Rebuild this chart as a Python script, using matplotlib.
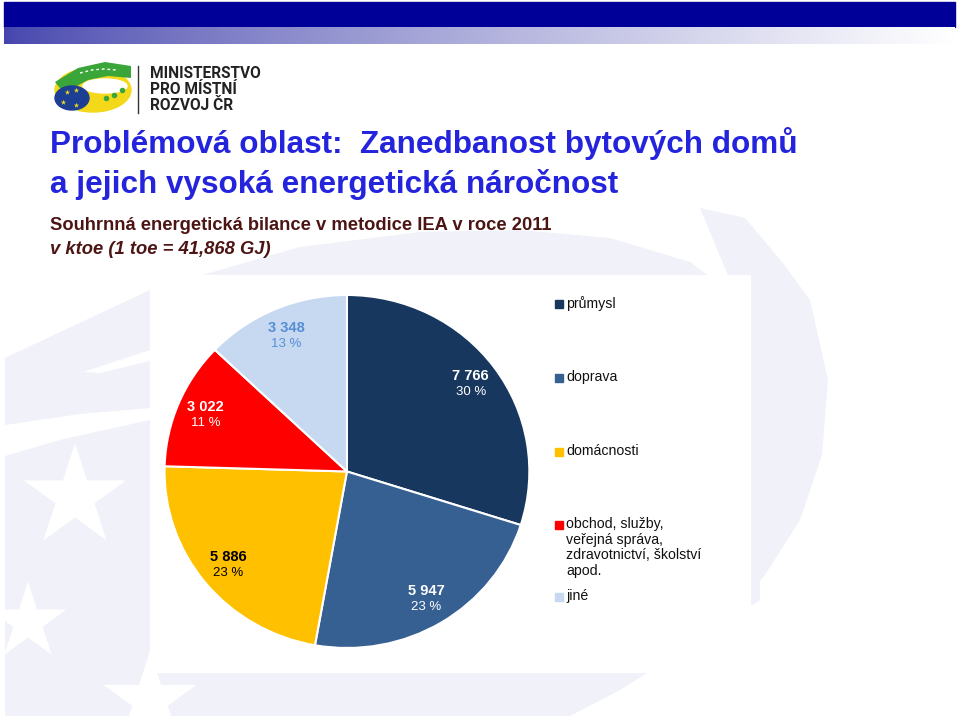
import matplotlib
matplotlib.use('Agg')
import matplotlib.pyplot as plt
from matplotlib.patches import Rectangle, Ellipse, Polygon
import numpy as np

plt.rcParams['font.family'] = ['Liberation Sans', 'DejaVu Sans']

# data
categories = ['průmysl', 'doprava', 'domácnosti',
              'obchod, služby,\nveřejná správa,\nzdravotnictví, školství\napod.',
              'jiné']
values = [7766, 5947, 5886, 3022, 3348]
pct_labels = ['30 %', '23 %', '23 %', '11 %', '13 %']
colors = ['#17375e', '#376092', '#ffc000', '#ff0000', '#c6d9f1']
label_colors = ['white', 'white', 'black', 'white', '#558ed5']

title1 = 'Problémová oblast:  Zanedbanost bytových domů'
title2 = 'a jejich vysoká energetická náročnost'
subtitle = 'Souhrnná energetická bilance v metodice IEA v roce 2011'
units = 'v ktoe (1 toe = 41,868 GJ)'

fig = plt.figure(figsize=(9.6, 7.16), dpi=100)

# slide background, pixel coordinates
bg = fig.add_axes([0, 0, 1, 1])
bg.set_xlim(0, 960)
bg.set_ylim(716, 0)
bg.axis('off')

# header bar + gradient
bg.add_patch(Rectangle((4, 2), 951, 25, color='#000099', zorder=1))
grad = np.linspace(0, 1, 400) ** 0.8
start = np.array([0.27, 0.27, 0.68])
img = start[None, :] * (1 - grad[:, None]) + grad[:, None]
bg.imshow(np.clip(img, 0, 1)[None, :, :], extent=(4, 955, 44, 27),
          aspect='auto', zorder=1)

# faint watermark
lav = '#f0f1f9'
bg.add_patch(Polygon([(5, 358), (150, 290), (300, 247), (420, 232), (520, 230),
                      (610, 238), (690, 262), (740, 300), (760, 380), (760, 600),
                      (700, 640), (620, 690), (570, 716), (5, 716)],
                     closed=True, color=lav, lw=0, zorder=0))
bg.add_patch(Polygon([(700, 208), (745, 218), (783, 263), (810, 300), (828, 380),
                      (822, 455), (800, 520), (765, 575), (735, 610), (730, 280)],
                     closed=True, color=lav, lw=0, zorder=0))
bg.add_patch(Polygon([(83, 372), (150, 350), (150, 361), (100, 373)],
                     closed=True, color='white', lw=0, zorder=0.3))
bg.add_patch(Polygon([(5, 425), (80, 414), (150, 408), (150, 420), (60, 440), (5, 456)],
                     closed=True, color='white', lw=0, zorder=0.3))
bg.scatter([75, 28, 150], [497, 622, 700], marker='*', s=[6000, 3400, 5000],
           color='white', linewidths=0, zorder=0.4)
bg.add_patch(Rectangle((150, 275), 600, 397, color='white', zorder=0.7))

# logo
bg.add_patch(Ellipse((93, 90), 76, 44, color='#f3d91a', zorder=2))
bg.add_patch(Ellipse((105, 86), 44, 14, color='white', zorder=2.1))
bg.add_patch(Polygon([(55, 82), (78, 68), (105, 62), (131, 66), (131, 78),
                      (108, 76), (88, 80), (64, 93)],
                     closed=True, color='#3aa63a', lw=0, zorder=2.2))
bg.plot([80, 92, 104, 116], [73, 70, 69, 70], color='white', lw=1, ls=(0, (2, 2)),
        zorder=2.25)
bg.add_patch(Ellipse((72, 98), 34, 24, color='#1c3f94', zorder=2.3))
bg.scatter([67, 76, 63, 76], [92, 90, 102, 105], marker='*', s=16,
           color='#f3d91a', linewidths=0, zorder=2.4)
bg.scatter([106, 114, 122], [98, 95, 90], marker='o', s=16,
           color='#3aa63a', linewidths=0, zorder=2.4)
bg.plot([138, 138], [66, 113], color='#333333', lw=1, zorder=2)
for i, t in enumerate(['MINISTERSTVO', 'PRO MÍSTNÍ', 'ROZVOJ ČR']):
    bg.text(150, 73 + i * 16.5, t, fontsize=11.2, fontweight='bold', color='#222222',
            family=['Roboto', 'DejaVu Sans'], va='center', ha='left', zorder=3)

# titles
bg.text(50, 153, title1, fontsize=22.7, fontweight='bold', color='#2424dc',
        va='baseline', zorder=3)
bg.text(50, 193, title2, fontsize=22.7, fontweight='bold', color='#2424dc',
        va='baseline', zorder=3)
bg.text(50, 230, subtitle, fontsize=13.2, fontweight='bold', color='#4d1414',
        va='baseline', zorder=3)
bg.text(50, 254, units, fontsize=13.2, fontweight='bold', style='italic',
        color='#4d1414', va='baseline', zorder=3)

# pie
ax = fig.add_axes([0.1714, 0.0950, 0.380, 0.493])
wedges, _ = ax.pie(values, colors=colors, startangle=90, counterclock=False,
                   wedgeprops=dict(edgecolor='white', linewidth=1.5))
ax.set_aspect('auto')
ax.set_xlim(-1, 1)
ax.set_ylim(-1, 1)

for w, v, p, c in zip(wedges, values, pct_labels, label_colors):
    ang = np.deg2rad((w.theta1 + w.theta2) / 2)
    x, y = 0.84 * np.cos(ang), 0.84 * np.sin(ang)
    ax.annotate(f'{v:,}'.replace(',', ' '), (x, y), xytext=(0, 5.5),
                textcoords='offset points', ha='center', va='center',
                fontsize=10.5, fontweight='bold', color=c)
    ax.annotate(p, (x, y), xytext=(0, -6), textcoords='offset points',
                ha='center', va='center', fontsize=9.5, color=c)

# legend
legend_y = [304, 378, 452, 525, 597]
for lbl, c, y in zip(categories, colors, legend_y):
    bg.add_patch(Rectangle((555, y - 4), 8, 8, color=c, zorder=3))
    bg.text(566, y - 8, lbl, fontsize=10.2, color='#111111', va='top', ha='left',
            linespacing=1.15, zorder=3)

fig.savefig('out.png', dpi=100)
